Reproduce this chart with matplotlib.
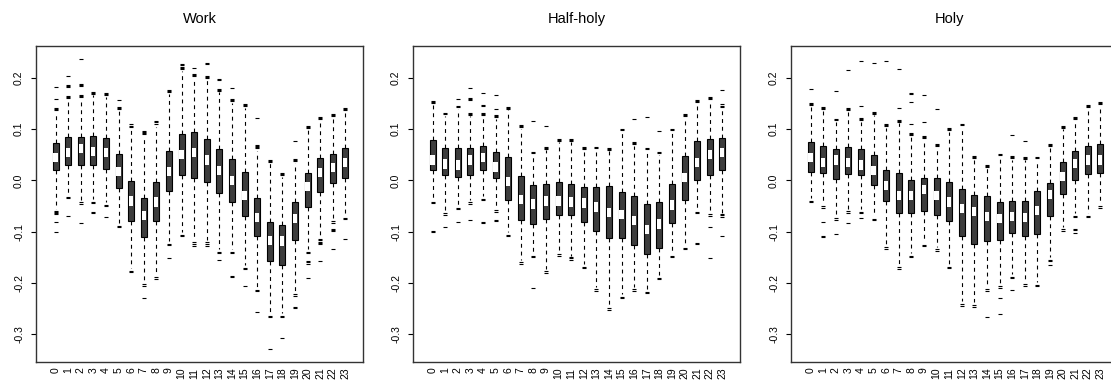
import matplotlib
matplotlib.use("Agg")
import matplotlib.pyplot as plt
import numpy as np

plt.rcParams["font.family"] = ["Liberation Sans", "DejaVu Sans"]

hours = [str(h) for h in range(24)]
panel_titles = ["Work", "Half-holy", "Holy"]

# ---- Work ----
work_q1 = [0.020, 0.030, 0.030, 0.030, 0.023, -0.015, -0.080, -0.110, -0.079, -0.021, 0.010, 0.004,
           -0.003, -0.024, -0.043, -0.070, -0.108, -0.157, -0.164, -0.117, -0.051, -0.022, -0.005, 0.005]
work_med = [0.045, 0.055, 0.062, 0.057, 0.055, 0.018, -0.040, -0.068, -0.042, 0.018, 0.050, 0.055,
            0.040, 0.020, 0.000, -0.030, -0.072, -0.117, -0.118, -0.075, -0.012, 0.015, 0.025, 0.035]
work_q3 = [0.072, 0.084, 0.085, 0.086, 0.082, 0.051, -0.001, -0.035, -0.004, 0.058, 0.091, 0.094,
           0.080, 0.062, 0.042, 0.016, -0.035, -0.082, -0.086, -0.042, 0.014, 0.044, 0.052, 0.063]
work_whi = [0.132, 0.156, 0.158, 0.166, 0.163, 0.137, 0.102, 0.085, 0.105, 0.169, 0.213, 0.200,
            0.197, 0.172, 0.151, 0.142, 0.058, 0.033, 0.007, 0.034, 0.100, 0.116, 0.122, 0.135]
work_wlo = [-0.055, -0.027, -0.038, -0.037, -0.042, -0.083, -0.171, -0.197, -0.184, -0.118, -0.101, -0.116,
            -0.116, -0.134, -0.134, -0.165, -0.208, -0.259, -0.259, -0.217, -0.134, -0.109, -0.075, -0.068]
work_out = [
    [0.182, 0.158, 0.142, 0.139, 0.137, -0.060, -0.062, -0.064, -0.066, -0.082, -0.101],
    [0.203, 0.186, 0.184, 0.182, 0.165, 0.163, 0.161, -0.032, -0.035, -0.069],
    [0.236, 0.188, 0.186, 0.184, 0.167, 0.165, 0.163, -0.043, -0.046, -0.084],
    [0.173, 0.171, 0.169, -0.042, -0.045, -0.062, -0.064],
    [0.170, 0.168, 0.166, -0.047, -0.050, -0.072],
    [0.156, 0.144, 0.142, 0.140, -0.088, -0.090],
    [0.109, 0.107, 0.105, -0.176, -0.179],
    [0.096, 0.094, 0.092, 0.090, -0.202, -0.205, -0.230],
    [0.116, 0.113, 0.110, -0.189, -0.192],
    [0.176, 0.174, 0.172, -0.123, -0.126, -0.151],
    [0.226, 0.224, 0.222, 0.220, 0.218, -0.106, -0.109],
    [0.220, 0.207, 0.205, 0.203, -0.121, -0.124, -0.127],
    [0.228, 0.226, 0.204, 0.202, 0.200, -0.121, -0.124, -0.127],
    [0.198, 0.196, 0.179, 0.177, 0.175, -0.139, -0.142, -0.155],
    [0.181, 0.158, 0.156, 0.154, -0.139, -0.142, -0.186, -0.188],
    [0.149, 0.147, 0.145, -0.170, -0.173, -0.205],
    [0.122, 0.069, 0.067, 0.065, 0.063, -0.213, -0.216, -0.256],
    [0.040, 0.038, 0.036, -0.264, -0.267, -0.329],
    [0.014, 0.012, 0.010, -0.264, -0.267, -0.308],
    [0.077, 0.041, 0.039, 0.037, -0.222, -0.225, -0.247, -0.249],
    [0.107, 0.105, 0.103, -0.139, -0.142, -0.158, -0.160, -0.162, -0.191],
    [0.123, 0.121, 0.119, -0.114, -0.117, -0.120, -0.122, -0.124, -0.158],
    [0.129, 0.127, 0.125, -0.080, -0.083, -0.095, -0.097, -0.099, -0.134],
    [0.142, 0.140, 0.138, -0.073, -0.076, -0.114],
]

# ---- Half-holy ----
half_q1 = [0.020, 0.011, 0.006, 0.010, 0.020, 0.005, -0.038, -0.078, -0.085, -0.075, -0.068, -0.068,
           -0.082, -0.099, -0.113, -0.112, -0.125, -0.144, -0.131, -0.084, -0.038, 0.000, 0.010, 0.020]
half_med = [0.040, 0.032, 0.030, 0.040, 0.045, 0.026, -0.002, -0.037, -0.046, -0.040, -0.040, -0.042,
            -0.044, -0.052, -0.063, -0.066, -0.078, -0.095, -0.085, -0.048, 0.005, 0.035, 0.050, 0.055]
half_q3 = [0.079, 0.064, 0.064, 0.064, 0.067, 0.056, 0.045, 0.008, -0.009, -0.007, -0.003, -0.007,
           -0.012, -0.012, -0.010, -0.023, -0.030, -0.046, -0.043, -0.007, 0.048, 0.076, 0.080, 0.082]
half_whi = [0.148, 0.125, 0.139, 0.125, 0.124, 0.120, 0.137, 0.101, 0.049, 0.059, 0.074, 0.074,
            0.059, 0.059, 0.057, 0.093, 0.067, 0.057, 0.049, 0.093, 0.122, 0.150, 0.155, 0.141]
half_wlo = [-0.037, -0.059, -0.048, -0.038, -0.031, -0.053, -0.101, -0.155, -0.142, -0.172, -0.139, -0.147,
            -0.163, -0.207, -0.244, -0.222, -0.207, -0.212, -0.185, -0.142, -0.126, -0.056, -0.061, -0.063]
half_out = [
    [0.155, 0.153, 0.151, -0.042, -0.045, -0.098, -0.100],
    [0.132, 0.130, -0.064, -0.067, -0.090],
    [0.158, 0.146, 0.144, -0.053, -0.056, -0.082],
    [0.181, 0.160, 0.158, 0.156, 0.132, 0.130, 0.128, -0.043, -0.046, -0.077],
    [0.171, 0.147, 0.145, 0.131, 0.129, 0.127, -0.036, -0.039, -0.081, -0.083],
    [0.166, 0.139, 0.127, 0.125, 0.123, -0.058, -0.061, -0.078, -0.080],
    [0.144, 0.142, 0.140, -0.106, -0.109],
    [0.108, 0.106, 0.104, -0.160, -0.163],
    [0.116, 0.056, 0.054, -0.147, -0.150, -0.209],
    [0.106, 0.066, 0.064, 0.062, -0.177, -0.180],
    [0.081, 0.079, 0.077, -0.144, -0.147],
    [0.081, 0.079, 0.077, -0.150, -0.152, -0.155],
    [0.066, 0.064, 0.062, -0.168, -0.171],
    [0.066, 0.064, -0.212, -0.215],
    [0.064, 0.062, 0.060, -0.249, -0.252],
    [0.100, 0.098, -0.227, -0.230],
    [0.119, 0.074, 0.072, 0.070, -0.212, -0.215],
    [0.123, 0.064, 0.062, -0.217, -0.220],
    [0.097, 0.056, 0.054, -0.190, -0.193],
    [0.100, 0.098, -0.147, -0.150],
    [0.129, 0.127, 0.125, -0.131, -0.134],
    [0.157, 0.155, 0.153, -0.061, -0.064, -0.122, -0.124],
    [0.162, 0.160, 0.158, -0.066, -0.069, -0.090, -0.152],
    [0.177, 0.148, 0.146, 0.144, -0.066, -0.068, -0.071, -0.108],
]

# ---- Holy ----
holy_q1 = [0.017, 0.014, 0.003, 0.012, 0.010, -0.008, -0.040, -0.064, -0.064, -0.059, -0.068, -0.080,
           -0.109, -0.123, -0.119, -0.116, -0.103, -0.108, -0.105, -0.069, -0.027, 0.001, 0.012, 0.014]
holy_med = [0.045, 0.035, 0.040, 0.035, 0.030, 0.020, -0.010, -0.030, -0.030, -0.018, -0.030, -0.042,
            -0.055, -0.060, -0.070, -0.075, -0.070, -0.072, -0.058, -0.028, 0.008, 0.033, 0.040, 0.040]
holy_q3 = [0.074, 0.067, 0.062, 0.065, 0.061, 0.049, 0.021, 0.015, 0.000, 0.005, 0.005, -0.003,
           -0.017, -0.028, -0.031, -0.043, -0.040, -0.041, -0.020, -0.006, 0.035, 0.058, 0.067, 0.070]
holy_whi = [0.144, 0.137, 0.113, 0.134, 0.114, 0.127, 0.103, 0.111, 0.085, 0.079, 0.064, 0.095,
            0.103, 0.041, 0.024, 0.044, 0.040, 0.039, 0.038, 0.064, 0.100, 0.116, 0.140, 0.145]
holy_wlo = [-0.035, -0.045, -0.069, -0.055, -0.056, -0.070, -0.125, -0.164, -0.142, -0.120, -0.129, -0.163,
            -0.236, -0.238, -0.207, -0.201, -0.183, -0.197, -0.198, -0.150, -0.090, -0.064, -0.064, -0.045]
holy_out = [
    [0.179, 0.151, 0.149, 0.147, -0.040, -0.043],
    [0.144, 0.142, 0.140, -0.050, -0.053, -0.081, -0.109, -0.111],
    [0.175, 0.120, 0.118, -0.074, -0.077, -0.105],
    [0.216, 0.141, 0.139, 0.137, -0.060, -0.063, -0.084],
    [0.232, 0.146, 0.121, 0.119, 0.117, -0.061, -0.064, -0.074],
    [0.228, 0.134, 0.132, 0.130, -0.075, -0.078],
    [0.232, 0.110, 0.108, 0.106, -0.130, -0.133],
    [0.218, 0.142, 0.118, 0.116, 0.114, -0.169, -0.172],
    [0.171, 0.169, 0.153, 0.109, 0.092, 0.090, 0.088, -0.147, -0.150],
    [0.166, 0.114, 0.086, 0.084, 0.082, -0.125, -0.128],
    [0.139, 0.071, 0.069, 0.067, -0.134, -0.137],
    [0.102, 0.100, 0.098, -0.168, -0.171],
    [0.110, 0.108, -0.241, -0.244],
    [0.048, 0.046, 0.044, -0.243, -0.246],
    [0.031, 0.029, 0.027, -0.212, -0.215, -0.266],
    [0.051, 0.049, -0.206, -0.209, -0.229, -0.260],
    [0.088, 0.047, 0.045, 0.043, -0.188, -0.191, -0.214],
    [0.077, 0.046, 0.044, 0.042, -0.202, -0.205],
    [0.045, 0.043, -0.203, -0.206],
    [0.071, 0.069, 0.067, -0.155, -0.158, -0.165],
    [0.107, 0.105, 0.103, -0.095, -0.098],
    [0.123, 0.121, 0.119, -0.069, -0.072, -0.094, -0.096, -0.103],
    [0.147, 0.145, 0.143, -0.069, -0.072],
    [0.152, 0.150, 0.148, -0.050, -0.053],
]

panels = [
    (work_q1, work_med, work_q3, work_wlo, work_whi, work_out),
    (half_q1, half_med, half_q3, half_wlo, half_whi, half_out),
    (holy_q1, holy_med, holy_q3, holy_wlo, holy_whi, holy_out),
]

W, H = 1111, 381
fig = plt.figure(figsize=(W / 100, H / 100), dpi=100)

# axes boxes in pixels (left, right); the last panel runs past the right edge
ax_px = [(36, 363), (413, 740), (791, 1118)]
top_px, bottom_px = 46, 362

box_width = 0.48
band_half = 0.009

for (left, right), title, (q1, med, q3, wlo, whi, out) in zip(ax_px, panel_titles, panels):
    ax = fig.add_axes([left / W, 1 - bottom_px / H, (right - left) / W, (bottom_px - top_px) / H])
    stats = []
    for i in range(len(hours)):
        stats.append(dict(med=med[i], q1=q1[i], q3=q3[i], whislo=wlo[i], whishi=whi[i],
                          fliers=out[i], label=hours[i]))
    pos = np.arange(len(hours))
    ax.bxp(stats, positions=pos, widths=box_width, patch_artist=True,
           showcaps=False,
           boxprops=dict(facecolor="#3d3d3d", edgecolor="black", linewidth=0.8),
           whiskerprops=dict(color="black", linewidth=0.8, linestyle=(0, (3.5, 3.5))),
           medianprops=dict(linewidth=0),
           flierprops=dict(marker="_", markersize=3.4, markeredgewidth=0.8,
                           markeredgecolor="black", linestyle="none"))
    # white band around the median
    ax.bar(pos, height=2 * band_half, bottom=np.array(med) - band_half,
           width=box_width * 0.7, color="white", linewidth=0, zorder=3)

    ax.set_xlim(-1.55, 24.4)
    ax.set_ylim(-0.354, 0.262)
    ax.set_yticks([-0.3, -0.2, -0.1, 0.0, 0.1, 0.2])
    ax.set_yticklabels(["-0.3", "-0.2", "-0.1", "0.0", "0.1", "0.2"],
                       rotation=90, va="center", fontsize=7.5)
    ax.set_xticks(pos)
    ax.set_xticklabels(hours, rotation=90, fontsize=7.5)
    ax.tick_params(axis="y", length=3.6, width=0.8, pad=5)
    ax.tick_params(axis="x", length=0, pad=4)
    for sp in ax.spines.values():
        sp.set_linewidth(1.0)
        sp.set_color("#333333")
    fig.text((left + right) / 2 / W if right < W else (left + 1108) / 2 / W, 1 - 19 / H, title,
             ha="center", va="center", fontsize=10.5)

fig.savefig("out.png", dpi=100)
